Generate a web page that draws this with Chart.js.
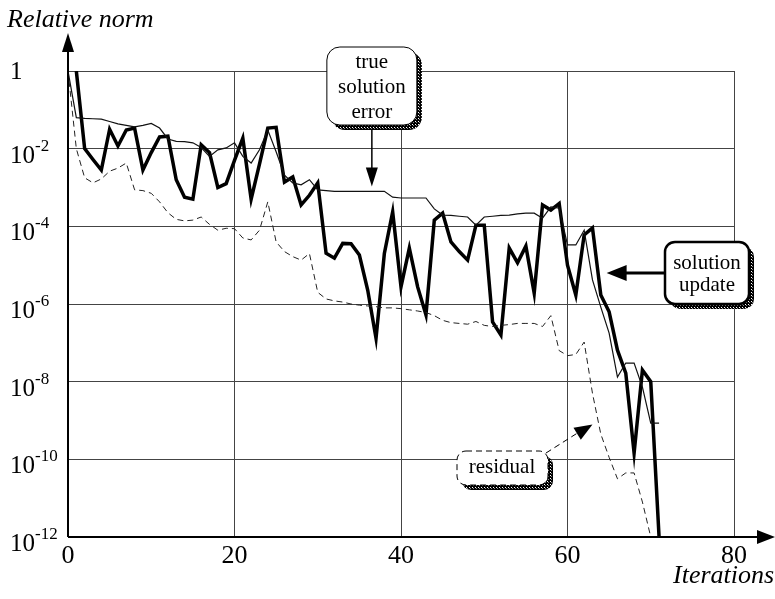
<!DOCTYPE html>
<html>
<head>
<meta charset="utf-8">
<script src="https://cdn.jsdelivr.net/npm/chart.js@4"></script>
<style>
    html, body { margin: 0; padding: 0; background: #fff; }
    canvas { display: block; }
</style>
</head>
<body>
<canvas id="normChart" width="775" height="599"></canvas>
<script>
// iteration numbers (x) and log10 of the relative norms
const iterations = [0, 1, 2, 3, 4, 5, 6, 7, 8, 9, 10, 11, 12, 13, 14, 15, 16, 17, 18, 19,
    20, 21, 22, 23, 24, 25, 26, 27, 28, 29, 30, 31, 32, 33, 34, 35, 36, 37, 38, 39,
    40, 41, 42, 43, 44, 45, 46, 47, 48, 49, 50, 51, 52, 53, 54, 55, 56, 57, 58, 59,
    60, 61, 62, 63, 64, 65, 66, 67, 68, 69, 70, 71];

// solution update (thick line)
const updateExp = [null, 0, -2.0, -2.28, -2.55, -1.5, -1.93, -1.52, -1.47, -2.55,
    -2.1, -1.7, -1.68, -2.8, -3.25, -3.3, -1.9, -2.1, -3.0, -2.9,
    -2.3, -1.73, -3.3, -2.4, -1.47, -1.45, -2.86, -2.73, -3.45, -3.2,
    -2.88, -4.69, -4.82, -4.44, -4.45, -4.74, -5.64, -6.88, -4.7, -3.63,
    -5.56, -4.56, -5.56, -6.28, -3.84, -3.66, -4.4, -4.65, -4.87, -3.97,
    -3.97, -6.46, -6.8, -4.56, -4.94, -4.51, -5.72, -3.45, -3.58, -3.41,
    -5.0, -5.77, -4.22, -4.04, -5.77, -6.2, -7.19, -7.78, -9.84, -7.7,
    -8.0, -12];

// true solution error (thin line)
const errorExp = [0, -1.2, -1.22, -1.23, -1.24, -1.3, -1.36, -1.4, -1.44, -1.4,
    -1.35, -1.47, -1.75, -1.81, -1.82, -1.85, -1.97, -2.2, -2.03, -1.98,
    -1.85, -2.2, -2.37, -2.03, -1.52, -2.08, -2.68, -2.88, -2.93, -2.8,
    -3.06, -3.08, -3.1, -3.1, -3.1, -3.1, -3.1, -3.1, -3.1, -3.25,
    -3.27, -3.27, -3.27, -3.27, -3.55, -3.71, -3.72, -3.74, -3.76, -3.97,
    -3.76, -3.74, -3.72, -3.71, -3.68, -3.66, -3.66, -3.79, -3.5, -3.53,
    -4.48, -4.48, -4.1, -5.38, -6.08, -6.75, -7.88, -7.52, -7.52, -8.14,
    -9.07, -9.07];

// residual (dashed line)
const residualExp = [0, -2.0, -2.75, -2.88, -2.78, -2.58, -2.5, -2.37, -3.06, -3.08,
    -3.15, -3.37, -3.65, -3.82, -3.86, -3.84, -3.76, -3.95, -4.1, -4.05,
    -4.06, -4.3, -4.35, -4.1, -3.37, -4.4, -4.65, -4.78, -4.87, -4.7,
    -5.7, -5.87, -5.92, -5.95, -6.0, -6.03, -6.05, -6.07, -6.1, -6.1,
    -6.12, -6.15, -6.18, -6.22, -6.3, -6.42, -6.48, -6.5, -6.52, -6.45,
    -6.55, -6.58, -6.55, -6.53, -6.5, -6.5, -6.5, -6.58, -6.3, -7.2,
    -7.33, -7.3, -6.98, -8.3, -9.35, -9.95, -10.5, -10.35, -10.35, -11.1,
    -12.0, null];

const yTickExps = [0, -2, -4, -6, -8, -10, -12];
const xTicks = [0, 20, 40, 60, 80];

const FONT = "'Liberation Serif', 'Times New Roman', serif";

function toPoints(exps) {
    return iterations.map((it, i) => ({
        x: it,
        y: exps[i] === null ? null : Math.pow(10, exps[i])
    }));
}

// dithered dark grey used for the box shadows
function makeShadowPattern(ctx) {
    const c = document.createElement('canvas');
    c.width = 3;
    c.height = 3;
    const p = c.getContext('2d');
    p.fillStyle = '#000';
    p.fillRect(0, 0, 3, 3);
    p.fillStyle = '#fff';
    p.fillRect(1, 1, 1, 1);
    p.fillStyle = '#888';
    p.fillRect(2, 2, 1, 1);
    return ctx.createPattern(c, 'repeat');
}

function drawBox(ctx, x, y, w, h, r, lineWidth, dashed) {
    ctx.save();
    ctx.fillStyle = makeShadowPattern(ctx);
    ctx.beginPath();
    ctx.roundRect(x + 5, y + 5, w, h, r);
    ctx.fill();
    ctx.fillStyle = '#fff';
    ctx.beginPath();
    ctx.roundRect(x, y, w, h, r);
    ctx.fill();
    ctx.strokeStyle = '#000';
    ctx.lineWidth = lineWidth;
    if (dashed) ctx.setLineDash([6, 4]);
    ctx.stroke();
    ctx.restore();
}

function arrowHead(ctx, tipX, tipY, angle, len, half) {
    ctx.save();
    ctx.translate(tipX, tipY);
    ctx.rotate(angle);
    ctx.beginPath();
    ctx.moveTo(0, 0);
    ctx.lineTo(-len, -half);
    ctx.lineTo(-len, half);
    ctx.closePath();
    ctx.fillStyle = '#000';
    ctx.fill();
    ctx.restore();
}

const decorations = {
    id: 'decorations',
    afterDraw(chart) {
        const ctx = chart.ctx;
        const ca = chart.chartArea;
        const xs = chart.scales.x;
        const ys = chart.scales.y;

        ctx.save();

        // axes with arrows
        ctx.strokeStyle = '#000';
        ctx.lineWidth = 2;
        ctx.beginPath();
        ctx.moveTo(ca.left, ca.bottom);
        ctx.lineTo(ca.left, ca.top - 20);
        ctx.moveTo(ca.left, ca.bottom);
        ctx.lineTo(chart.width - 16, ca.bottom);
        ctx.stroke();
        arrowHead(ctx, ca.left, ca.top - 38, -Math.PI / 2, 19, 6);
        arrowHead(ctx, chart.width, ca.bottom, 0, 18, 7);

        // y tick labels 10^n
        ctx.fillStyle = '#000';
        ctx.textAlign = 'left';
        ctx.textBaseline = 'alphabetic';
        yTickExps.forEach(e => {
            const py = ys.getPixelForValue(Math.pow(10, e));
            if (e === 0) {
                ctx.font = '25px ' + FONT;
                ctx.fillText('1', 10, py + 8);
            } else {
                ctx.font = '25px ' + FONT;
                ctx.fillText('10', 10, py + 14);
                const w = ctx.measureText('10').width;
                ctx.font = '17px ' + FONT;
                ctx.fillText('-' + (-e), 10 + w, py + 2);
            }
        });

        // x tick labels
        ctx.font = '26px ' + FONT;
        ctx.textAlign = 'center';
        xTicks.forEach(v => {
            ctx.fillText(String(v), xs.getPixelForValue(v), ca.bottom + 26);
        });

        // axis titles
        ctx.font = 'italic 26px ' + FONT;
        ctx.textAlign = 'left';
        ctx.fillText('Relative norm', 7, 27);
        ctx.fillText('Iterations', 673, 583);

        // "true solution error" callout
        const teX = xs.getPixelForValue(36.5);
        const teTip = ys.getPixelForValue(1e-3) - 1;
        drawBox(ctx, teX - 45, ca.top - 24, 90, 78, 13, 1, false);
        ctx.strokeStyle = '#000';
        ctx.lineWidth = 1.5;
        ctx.beginPath();
        ctx.moveTo(teX, ca.top + 59);
        ctx.lineTo(teX, teTip - 16);
        ctx.stroke();
        arrowHead(ctx, teX, teTip, Math.PI / 2, 19, 6);
        ctx.font = '21px ' + FONT;
        ctx.textAlign = 'center';
        ctx.fillStyle = '#000';
        ctx.fillText('true', teX, ca.top - 3);
        ctx.fillText('solution', teX, ca.top + 22);
        ctx.fillText('error', teX, ca.top + 47);

        // "solution update" callout
        const suTipX = xs.getPixelForValue(64.7);
        const suTipY = ys.getPixelForValue(Math.pow(10, -5.2));
        drawBox(ctx, 665, suTipY - 31, 84, 62, 10, 2.5, false);
        ctx.lineWidth = 3;
        ctx.beginPath();
        ctx.moveTo(665, suTipY);
        ctx.lineTo(suTipX + 15, suTipY);
        ctx.stroke();
        arrowHead(ctx, suTipX, suTipY, Math.PI, 20, 8);
        ctx.font = '21px ' + FONT;
        ctx.fillText('solution', 707, suTipY - 4);
        ctx.fillText('update', 707, suTipY + 18);

        // "residual" callout
        const rTipX = xs.getPixelForValue(63);
        const rTipY = ys.getPixelForValue(Math.pow(10, -9.1));
        drawBox(ctx, 457, 451, 91, 34, 9, 1, true);
        ctx.lineWidth = 1;
        ctx.setLineDash([6, 4]);
        ctx.beginPath();
        ctx.moveTo(546, 453);
        ctx.lineTo(rTipX - 14, rTipY + 8);
        ctx.stroke();
        ctx.setLineDash([]);
        arrowHead(ctx, rTipX, rTipY, Math.atan2(rTipY - 453, rTipX - 546), 18, 7);
        ctx.font = '21px ' + FONT;
        ctx.fillText('residual', 502, 473);

        ctx.restore();
    }
};

new Chart(document.getElementById('normChart').getContext('2d'), {
    type: 'line',
    data: {
        datasets: [{
                label: 'residual',
                data: toPoints(residualExp),
                borderColor: '#222',
                borderWidth: 1,
                borderDash: [6, 4],
                pointRadius: 0,
                tension: 0
            }, {
                label: 'true solution error',
                data: toPoints(errorExp),
                borderColor: '#111',
                borderWidth: 1.2,
                pointRadius: 0,
                tension: 0
            }, {
                label: 'solution update',
                data: toPoints(updateExp),
                borderColor: '#000',
                borderWidth: 3.5,
                borderJoinStyle: 'miter',
                pointRadius: 0,
                tension: 0
            }]
    },
    options: {
        responsive: false,
        animation: false,
        devicePixelRatio: 1,
        layout: {
            padding: {left: 68, right: 41, top: 71, bottom: 62}
        },
        plugins: {
            legend: {display: false},
            tooltip: {enabled: false}
        },
        scales: {
            x: {
                type: 'linear',
                min: 0,
                max: 80,
                ticks: {display: false, stepSize: 20},
                grid: {color: '#444', lineWidth: 1, drawTicks: false},
                border: {display: false}
            },
            y: {
                type: 'logarithmic',
                min: 1e-12,
                max: 1,
                afterBuildTicks: (scale) => {
                    scale.ticks = yTickExps.map(e => ({value: Math.pow(10, e)}));
                },
                ticks: {display: false},
                grid: {color: '#444', lineWidth: 1, drawTicks: false},
                border: {display: false}
            }
        }
    },
    plugins: [decorations]
});
</script>
</body>
</html>
